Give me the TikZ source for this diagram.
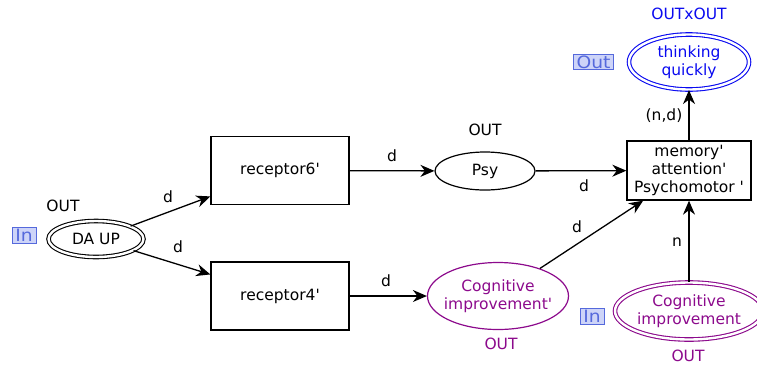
\documentclass[tikz,border=0pt]{standalone}
\usepackage{fontspec}
\setmainfont{DejaVu Sans}
\usetikzlibrary{shapes.geometric,arrows.meta}
\definecolor{placeblue}{RGB}{10,10,240}
\definecolor{placepurple}{RGB}{140,10,140}
\definecolor{tagfill}{RGB}{205,212,248}
\definecolor{tagline}{RGB}{85,105,220}
\newcommand{\qt}{\textquotesingle}
\tikzset{
  every node/.style={font=\fontsize{15.5}{18}\selectfont, inner sep=0pt, align=center},
  trans/.style={draw, line width=1.3pt, rectangle, minimum width=138pt, minimum height=68pt},
  place/.style={draw, line width=1.2pt, ellipse},
  port/.style={place, double, double distance=2.4pt, line width=1.1pt},
  tagbox/.style={draw=tagline, fill=tagfill, line width=0.9pt, text=tagline,
    minimum height=15.5pt, inner xsep=2pt,
    font=\fontsize{17}{17}\selectfont\addfontfeature{FakeStretch=1.1}},
  arc/.style={line width=1.3pt, -{Stealth[length=14pt, width=12pt, inset=4.5pt]}}
}
\begin{document}
\begin{tikzpicture}[x=1pt, y=-1pt]
\useasboundingbox (0,0) rectangle (757,365);

% places
\node[port, minimum width=95pt, minimum height=36pt] (daup) at (96,239) {DA UP};
\node[place, minimum width=100pt, minimum height=38pt] (psy) at (485,171) {Psy};
\node[place, draw=placepurple, text=placepurple, inner xsep=-6pt,
  minimum width=141pt, minimum height=67pt]
  (cogp) at (498,296) {Cognitive\\improvement\qt};
\node[port, draw=placepurple, text=placepurple, minimum width=148pt, minimum height=57pt]
  (cog) at (689,311) {Cognitive\\improvement};
\node[port, draw=placeblue, text=placeblue, minimum width=120pt, minimum height=55pt]
  (think) at (689,62) {thinking\\quickly};

% transitions
\node[trans] (r6) at (280,170.5) {receptor6\qt};
\node[trans] (r4) at (280,296) {receptor4\qt};
\node[trans, minimum width=124pt, minimum height=59pt] (mem) at (689,170.5)
  {memory\qt\\attention\qt\\Psychomotor \qt};

% colour sets
\node (csdaup) at (63,206) {OUT};
\node (cspsy) at (485,130) {OUT};
\node[text=placeblue] (csthink) at (689,14) {OUTxOUT};
\node[text=placepurple] (cscogp) at (501,344) {OUT};
\node[text=placepurple] (cscog) at (688,356) {OUT};

% port tags
\node[tagbox, minimum width=24pt] (tagin1) at (24,235.5) {In};
\node[tagbox, minimum width=40pt] (tagout) at (593.5,62) {Out};
\node[tagbox, minimum width=24pt] (tagin2) at (592,316.5) {In};

% arcs
\draw[arc] (daup) -- (r6);
\draw[arc] (daup) -- (r4);
\draw[arc] (r6) -- (psy);
\draw[arc] (psy) -- (mem);
\draw[arc] (r4) -- (cogp);
\draw[arc] (cogp) -- (mem);
\draw[arc] (cog) -- (mem);
\draw[arc] (mem) -- (think);

% arc inscriptions
\node (i1) at (168,197) {d};
\node (i2) at (178,247) {d};
\node (i3) at (392,156) {d};
\node (i4) at (584,186) {d};
\node (i5) at (386,281) {d};
\node (i6) at (577,227) {d};
\node (i7) at (677,242) {n};
\node (i8) at (664,116) {(n,d)};
\end{tikzpicture}
\end{document}
